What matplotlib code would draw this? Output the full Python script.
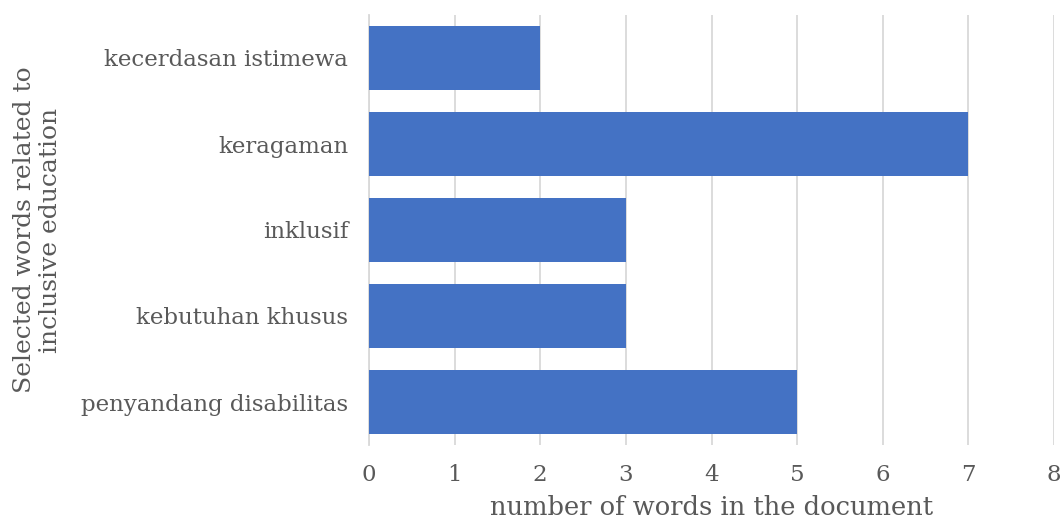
import matplotlib.pyplot as plt

##### Data #####
categories = ['penyandang disabilitas', 'kebutuhan khusus', 'inklusif', 'keragaman', 'kecerdasan istimewa']
counts = [5, 3, 3, 7, 2]
x_ticks = [0, 1, 2, 3, 4, 5, 6, 7, 8]

##### Style #####
TEXT_COLOR = '#595959'
BAR_COLOR = '#4472C4'
GRID_COLOR = '#D9D9D9'

plt.rcParams.update({
    'font.family': 'DejaVu Serif',
    'font.size': 16.5,
})

fig = plt.figure(figsize=(10.62, 5.2), dpi=100)
ax = fig.add_axes([369 / 1062, 1 - 445 / 520, 685 / 1062, 430 / 520])

ax.barh(categories, counts, height=0.75, color=BAR_COLOR, zorder=3)

ax.set_xlim(0, 8)
ax.set_ylim(-0.5, len(categories) - 0.5)
ax.set_xticks(x_ticks)
ax.grid(axis='x', color=GRID_COLOR, linewidth=1.3, zorder=0)

for side in ['top', 'right', 'bottom']:
    ax.spines[side].set_visible(False)
ax.spines['left'].set_color(GRID_COLOR)
ax.spines['left'].set_linewidth(1.3)

ax.tick_params(axis='both', length=0, colors=TEXT_COLOR, labelsize=16.5)
ax.tick_params(axis='x', pad=14)
ax.tick_params(axis='y', pad=15)

ax.set_xlabel('number of words in the document', color=TEXT_COLOR, fontsize=18.5, labelpad=6)
ax.set_ylabel('Selected words related to\ninclusive education', color=TEXT_COLOR, fontsize=18,
              linespacing=1.15, labelpad=14)

fig.savefig('out.png', dpi=100)
